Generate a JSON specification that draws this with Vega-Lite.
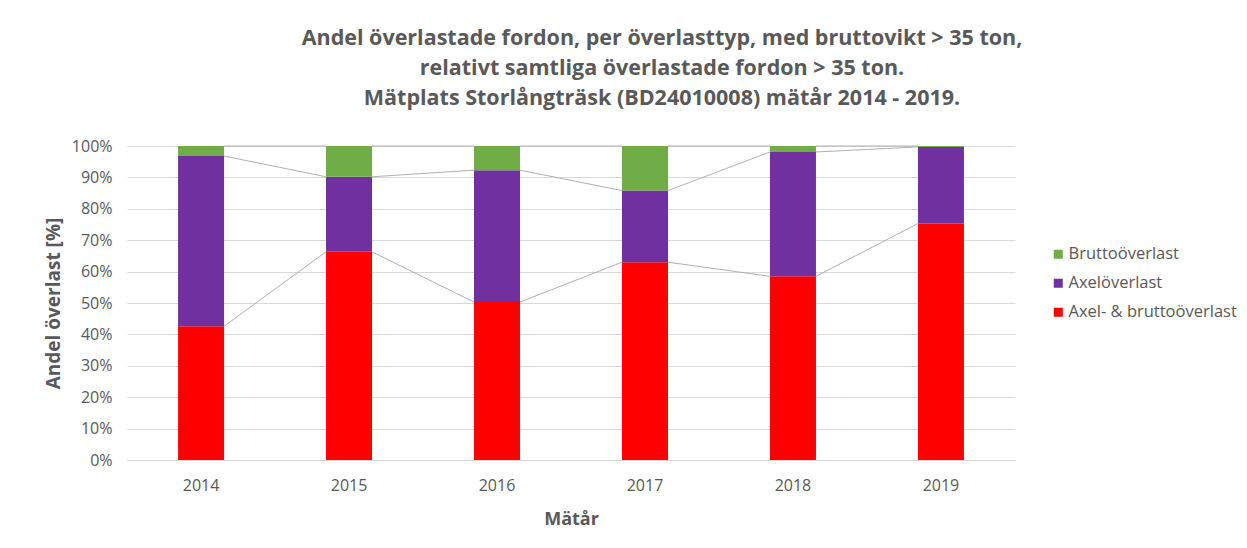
{
  "$schema": "https://vega.github.io/schema/vega-lite/v6.json",
  "autosize": "none",
  "width": 888,
  "height": 314,
  "padding": {"left": 127, "top": 146, "right": 232, "bottom": 88},
  "background": "#ffffff",
  "title": {
    "text": ["Andel överlastade fordon, per överlasttyp, med bruttovikt > 35 ton,", "relativt samtliga överlastade fordon > 35 ton.", "Mätplats Storlångträsk (BD24010008) mätår 2014 - 2019."],
    "anchor": "middle",
    "frame": "group",
    "dx": 91,
    "offset": 29,
    "font": "Open Sans",
    "fontSize": 21.5,
    "fontWeight": "bold",
    "lineHeight": 30,
    "color": "#595959"
  },
  "data": {
    "values": [
      {"year": "2014", "type": "Axel- & bruttoöverlast", "ord": 1, "value": 42.6},
      {"year": "2014", "type": "Axelöverlast", "ord": 2, "value": 54.2},
      {"year": "2014", "type": "Bruttoöverlast", "ord": 3, "value": 3.2},
      {"year": "2015", "type": "Axel- & bruttoöverlast", "ord": 1, "value": 66.3},
      {"year": "2015", "type": "Axelöverlast", "ord": 2, "value": 23.9},
      {"year": "2015", "type": "Bruttoöverlast", "ord": 3, "value": 9.8},
      {"year": "2016", "type": "Axel- & bruttoöverlast", "ord": 1, "value": 50.3},
      {"year": "2016", "type": "Axelöverlast", "ord": 2, "value": 42.0},
      {"year": "2016", "type": "Bruttoöverlast", "ord": 3, "value": 7.7},
      {"year": "2017", "type": "Axel- & bruttoöverlast", "ord": 1, "value": 63.0},
      {"year": "2017", "type": "Axelöverlast", "ord": 2, "value": 22.8},
      {"year": "2017", "type": "Bruttoöverlast", "ord": 3, "value": 14.2},
      {"year": "2018", "type": "Axel- & bruttoöverlast", "ord": 1, "value": 58.5},
      {"year": "2018", "type": "Axelöverlast", "ord": 2, "value": 39.6},
      {"year": "2018", "type": "Bruttoöverlast", "ord": 3, "value": 1.9},
      {"year": "2019", "type": "Axel- & bruttoöverlast", "ord": 1, "value": 75.3},
      {"year": "2019", "type": "Axelöverlast", "ord": 2, "value": 24.4},
      {"year": "2019", "type": "Bruttoöverlast", "ord": 3, "value": 0.3}
    ]
  },
  "layer": [
    {
      "mark": {"type": "bar"},
      "encoding": {
        "x": {
          "field": "year",
          "type": "ordinal",
          "scale": {"paddingInner": 0.689, "paddingOuter": 0.345},
          "axis": {
            "title": "Mätår",
            "labelAngle": 0,
            "domain": true,
            "domainColor": "#d9d9d9",
            "ticks": false,
            "labelPadding": 17,
            "titlePadding": 17
          }
        },
        "y": {
          "field": "value",
          "type": "quantitative",
          "stack": "zero",
          "scale": {"domain": [0, 100]},
          "axis": {
            "title": "Andel överlast [%]",
            "values": [0, 10, 20, 30, 40, 50, 60, 70, 80, 90, 100],
            "tickCount": 20,
            "labelExpr": "datum.value + '%'",
            "labelOverlap": false,
            "domain": false,
            "ticks": false,
            "labelPadding": 15,
            "titlePadding": 8,
            "grid": true,
            "gridColor": "#d9d9d9",
            "titleFontSize": 19
          }
        },
        "color": {
          "field": "type",
          "type": "nominal",
          "scale": {
            "domain": ["Bruttoöverlast", "Axelöverlast", "Axel- & bruttoöverlast"],
            "range": ["#70ad47", "#7030a0", "#ff0000"]
          },
          "legend": {
            "title": null,
            "orient": "none",
            "legendX": 923,
            "legendY": 100,
            "symbolType": "square",
            "symbolSize": 81,
            "symbolStrokeWidth": 0,
            "labelFontSize": 16.5,
            "labelFont": "Open Sans",
            "labelColor": "#595959",
            "labelLimit": 400,
            "labelOffset": 2,
            "rowPadding": 12,
            "padding": 0
          }
        },
        "order": {"field": "ord", "type": "quantitative"}
      }
    },
    {
      "transform": [
        {"stack": "value", "groupby": ["year"], "sort": [{"field": "ord", "order": "ascending"}], "as": ["v0", "v1"]},
        {"window": [{"op": "lead", "field": "v1", "as": "nextV1"}, {"op": "lead", "field": "year", "as": "nextYear"}], "groupby": ["type"], "sort": [{"field": "year", "order": "ascending"}]},
        {"filter": "datum.nextYear != null"}
      ],
      "mark": {"type": "rule", "color": "#b0b0b0", "strokeWidth": 1},
      "encoding": {
        "x": {"field": "year", "type": "ordinal", "bandPosition": 1},
        "x2": {"field": "nextYear", "bandPosition": 0},
        "y": {
          "field": "v1",
          "type": "quantitative",
          "axis": {
            "title": "Andel överlast [%]",
            "values": [0, 10, 20, 30, 40, 50, 60, 70, 80, 90, 100],
            "tickCount": 20,
            "labelExpr": "datum.value + '%'",
            "labelOverlap": false,
            "domain": false,
            "ticks": false,
            "labelPadding": 15,
            "titlePadding": 8,
            "grid": true,
            "gridColor": "#d9d9d9",
            "titleFontSize": 19
          }
        },
        "y2": {"field": "nextV1"}
      }
    }
  ],
  "config": {
    "view": {"stroke": null},
    "font": "Open Sans",
    "axis": {
      "labelFont": "Open Sans",
      "labelFontSize": 16,
      "labelColor": "#595959",
      "titleFont": "Open Sans",
      "titleFontSize": 18,
      "titleFontWeight": "bold",
      "titleColor": "#595959"
    }
  }
}
